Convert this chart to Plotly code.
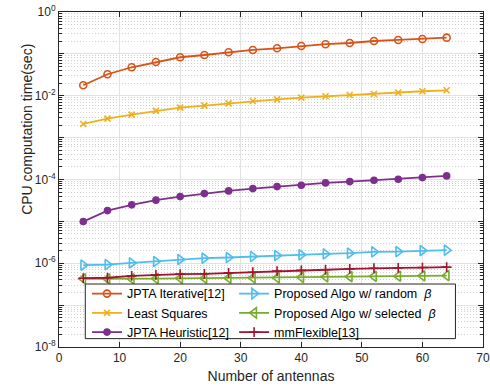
import plotly.graph_objects as go

antennas = [4, 8, 12, 16, 20, 24, 28, 32, 36, 40, 44, 48, 52, 56, 60, 64]

jpta_iterative = [0.0178, 0.0326, 0.0479, 0.0641, 0.083, 0.094, 0.109, 0.124,
                  0.136, 0.154, 0.170, 0.182, 0.203, 0.215, 0.227, 0.244]
least_squares = [2.12e-3, 2.84e-3, 3.54e-3, 4.34e-3, 5.2e-3, 5.8e-3, 6.6e-3, 7.5e-3,
                 8.2e-3, 9.0e-3, 9.7e-3, 1.045e-2, 1.10e-2, 1.19e-2, 1.28e-2, 1.35e-2]
jpta_heuristic = [9.9e-6, 1.81e-5, 2.48e-5, 3.21e-5, 3.91e-5, 4.6e-5, 5.34e-5, 6.07e-5,
                  6.76e-5, 7.3e-5, 8.3e-5, 8.9e-5, 9.6e-5, 1.016e-4, 1.11e-4, 1.22e-4]
proposed_random = [9.0e-7, 9.3e-7, 1.02e-6, 1.10e-6, 1.23e-6, 1.32e-6, 1.37e-6, 1.45e-6,
                   1.53e-6, 1.59e-6, 1.67e-6, 1.74e-6, 1.87e-6, 1.90e-6, 2.01e-6, 2.05e-6]
proposed_selected = [4.25e-7, 4.22e-7, 4.25e-7, 4.3e-7, 4.36e-7, 4.4e-7, 4.42e-7, 4.49e-7,
                     4.49e-7, 4.6e-7, 4.73e-7, 4.78e-7, 4.86e-7, 4.9e-7, 5.0e-7, 5.06e-7]
mmflexible = [4.4e-7, 4.5e-7, 5.0e-7, 5.3e-7, 5.5e-7, 5.6e-7, 5.9e-7, 6.1e-7,
              6.5e-7, 6.75e-7, 7.0e-7, 7.3e-7, 7.6e-7, 7.75e-7, 7.9e-7, 8.1e-7]

y_tickvals = [1e-8, 1e-7, 1e-6, 1e-5, 1e-4, 1e-3, 1e-2, 1e-1, 1e0]
y_ticktext = ["10<sup>-8</sup>", "", "10<sup>-6</sup>", "", "10<sup>-4</sup>", "",
              "10<sup>-2</sup>", "", "10<sup>0</sup>"]

x_title = "Number of antennas"
y_title = "CPU computation time(sec)"

series = [
    ("JPTA Iterative[12]", jpta_iterative, "#D95319", "circle-open", 7, "legend"),
    ("Least Squares", least_squares, "#EDB120", "x-thin-open", 6, "legend"),
    ("JPTA Heuristic[12]", jpta_heuristic, "#7E2F8E", "circle", 6, "legend"),
    ("Proposed Algo w/ random  <i>β</i>", proposed_random, "#4DBEEE", "triangle-right-open", 9, "legend2"),
    ("Proposed Algo w/ selected  <i>β</i>", proposed_selected, "#77AC30", "triangle-left-open", 9, "legend2"),
    ("mmFlexible[13]", mmflexible, "#A2142F", "cross-thin-open", 7, "legend2"),
]

fig = go.Figure()
for name, vals, color, sym, size, leg in series:
    fig.add_trace(go.Scatter(
        x=antennas, y=vals, name=name, mode="lines+markers",
        line=dict(color=color, width=1.8),
        marker=dict(symbol=sym, size=size, color=color,
                    line=dict(color=color, width=1.6)),
        legend=leg,
    ))

font_family = "Liberation Sans, Arial"
axis_common = dict(
    showline=True, linecolor="#262626", linewidth=1, mirror="allticks",
    ticks="inside", tickcolor="#262626", ticklen=5,
    gridcolor="#E2E2E2", gridwidth=1, zeroline=False,
    tickfont=dict(family=font_family, size=12, color="#262626"),
)

fig.update_xaxes(
    range=[0, 70], dtick=10, tick0=0,
    title=dict(text=x_title, font=dict(family=font_family, size=14, color="#262626"), standoff=6),
    **axis_common,
)
fig.update_yaxes(
    type="log", range=[-8, 0], tickmode="array", tickvals=y_tickvals, ticktext=y_ticktext,
    minor=dict(dtick="D1", ticks="inside", ticklen=3, tickcolor="#262626",
               showgrid=True, gridcolor="#CFCFCF", griddash="1px,2px", gridwidth=1),
    **axis_common,
)

fig.add_annotation(text=y_title, xref="paper", yref="paper",
                   x=-0.074, y=0.65, xanchor="center", yanchor="middle",
                   textangle=-90, showarrow=False,
                   font=dict(family=font_family, size=14, color="#262626"))

leg_common = dict(
    orientation="v", yanchor="top", xanchor="left",
    bgcolor="rgba(0,0,0,0)", borderwidth=0,
    font=dict(family=font_family, size=12.5, color="#000000"),
    itemwidth=30, tracegroupgap=0,
)

fig.add_shape(type="rect", xref="paper", yref="paper",
              x0=0.062, x1=0.935, y0=0.025, y1=0.188,
              line=dict(color="#262626", width=1), fillcolor="white", layer="above")

fig.update_layout(
    width=490, height=387,
    margin=dict(l=58.5, r=6.5, t=12, b=40, autoexpand=False),
    paper_bgcolor="white", plot_bgcolor="white",
    showlegend=True,
    legend=dict(x=0.066, y=0.203, **leg_common),
    legend2=dict(x=0.413, y=0.203, **leg_common),
)

fig.write_html("out.html")
